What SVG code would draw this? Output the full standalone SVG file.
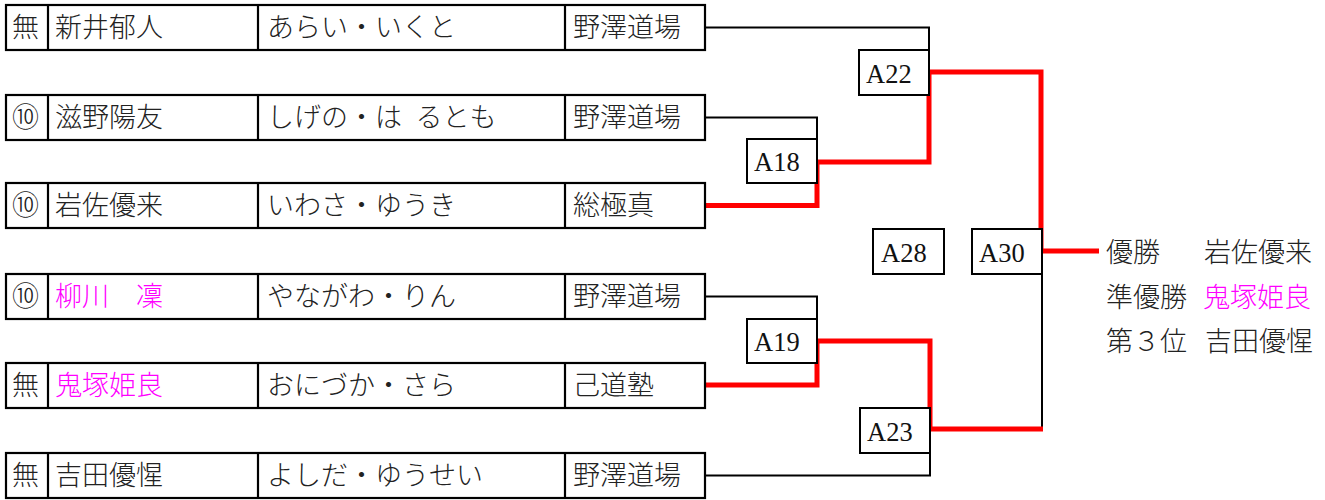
<svg xmlns="http://www.w3.org/2000/svg" width="1325" height="500" viewBox="0 0 1325 500">
<style>
.row{fill:#fff;stroke:#000;stroke-width:2.2}
.div{stroke:#000;stroke-width:2.2}
.jp{font-family:"Noto Sans CJK JP","Noto Sans CJK SC",sans-serif;font-size:27px;font-weight:300;fill:#222}
.mg{fill:#ff00ff}
.box{fill:#fff;stroke:#000;stroke-width:2}
.lab{font-family:"Liberation Serif",serif;font-size:26.5px;fill:#111}
.ln{fill:none;stroke:#000;stroke-width:2}
.win{fill:none;stroke:#ff0000;stroke-width:5;stroke-linejoin:miter;stroke-linecap:butt}
</style>
<rect width="1325" height="500" fill="#fff"/>
<g id="connectors">
<path class="ln" d="M705,27.5 H929 V50"/>
<path class="ln" d="M705,117.5 H817 V139"/>
<path class="ln" d="M705,296.5 H817 V319"/>
<path class="ln" d="M705,475.5 H930 V453"/>
<path class="ln" d="M1042,274 V429"/>
<path class="win" d="M705,205.5 H817 V162 H929 V72 H1041 V251 H1099"/>
<path class="win" d="M705,385 H817 V341 H930 V429 H1043"/>
</g>
<g id="entry1">
<rect class="row" x="6" y="5" width="699" height="45"/>
<path class="div" d="M48,5 V50 M258,5 V50 M565,5 V50"/>
<text class="jp" x="12" y="37">無</text>
<text class="jp" x="55" y="37">新井郁人</text>
<text class="jp" x="267" y="37">あらい・いくと</text>
<text class="jp" x="573" y="37">野澤道場</text>
</g>
<g id="entry2">
<rect class="row" x="6" y="95" width="699" height="45"/>
<path class="div" d="M48,95 V140 M258,95 V140 M565,95 V140"/>
<text class="jp" x="12" y="127">⑩</text>
<text class="jp" x="55" y="127">滋野陽友</text>
<text class="jp" x="267" y="127">しげの・は&#x2002;るとも</text>
<text class="jp" x="573" y="127">野澤道場</text>
</g>
<g id="entry3">
<rect class="row" x="6" y="183" width="699" height="45"/>
<path class="div" d="M48,183 V228 M258,183 V228 M565,183 V228"/>
<text class="jp" x="12" y="215">⑩</text>
<text class="jp" x="55" y="215">岩佐優来</text>
<text class="jp" x="267" y="215">いわさ・ゆうき</text>
<text class="jp" x="573" y="215">総極真</text>
</g>
<g id="entry4">
<rect class="row" x="6" y="274" width="699" height="45"/>
<path class="div" d="M48,274 V319 M258,274 V319 M565,274 V319"/>
<text class="jp" x="12" y="306">⑩</text>
<text class="jp mg" x="55" y="306">柳川　凜</text>
<text class="jp" x="267" y="306">やながわ・りん</text>
<text class="jp" x="573" y="306">野澤道場</text>
</g>
<g id="entry5">
<rect class="row" x="6" y="363" width="699" height="45"/>
<path class="div" d="M48,363 V408 M258,363 V408 M565,363 V408"/>
<text class="jp" x="12" y="395">無</text>
<text class="jp mg" x="55" y="395">鬼塚姫良</text>
<text class="jp" x="267" y="395">おにづか・さら</text>
<text class="jp" x="573" y="395">己道塾</text>
</g>
<g id="entry6">
<rect class="row" x="6" y="453" width="699" height="45"/>
<path class="div" d="M48,453 V498 M258,453 V498 M565,453 V498"/>
<text class="jp" x="12" y="485">無</text>
<text class="jp" x="55" y="485">吉田優惺</text>
<text class="jp" x="267" y="485">よしだ・ゆうせい</text>
<text class="jp" x="573" y="485">野澤道場</text>
</g>
<g id="A22"><rect class="box" x="859" y="50" width="70" height="45"/><text class="lab" x="866" y="83">A22</text></g>
<g id="A18"><rect class="box" x="747" y="139" width="70" height="44"/><text class="lab" x="754" y="171">A18</text></g>
<g id="A28"><rect class="box" x="873" y="229" width="71" height="45"/><text class="lab" x="881" y="262">A28</text></g>
<g id="A30"><rect class="box" x="972" y="229" width="70" height="45"/><text class="lab" x="979" y="262">A30</text></g>
<g id="A19"><rect class="box" x="747" y="319" width="70" height="44"/><text class="lab" x="754" y="351">A19</text></g>
<g id="A23"><rect class="box" x="860" y="408" width="70" height="45"/><text class="lab" x="867" y="441">A23</text></g>
<g id="results">
<text class="jp" x="1106" y="262">優勝</text>
<text class="jp" x="1204" y="262">岩佐優来</text>
<text class="jp" x="1106" y="307">準優勝</text>
<text class="jp mg" x="1203" y="307">鬼塚姫良</text>
<text class="jp" x="1106" y="351">第３位</text>
<text class="jp" x="1205" y="351">吉田優惺</text>
</g>
</svg>
